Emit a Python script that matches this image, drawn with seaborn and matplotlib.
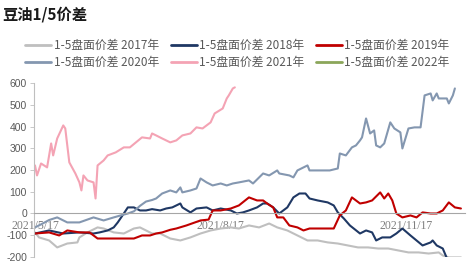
import matplotlib
matplotlib.use("Agg")
import matplotlib.pyplot as plt
from matplotlib.lines import Line2D
from matplotlib.ticker import FixedLocator, FixedFormatter
import numpy as np
import pandas as pd
import seaborn as sns

# ---------------- data (day offsets from 2021/5/17, values) ----------------
base_date = "2021-05-17"

days_2017 = [0, 2, 7, 11, 16, 21, 22, 26, 31, 34, 39, 44, 49, 52, 55, 58, 62, 67, 72, 77, 82, 87, 92, 97,
             101, 106, 111, 116, 120, 125, 130, 135, 140, 145, 150, 155, 160, 165, 170, 175, 180, 185,
             190, 195, 200, 202, 205, 211]
vals_2017 = [-87, -110, -124, -156, -138, -133, -110, -87, -64, -69, -87, -92, -69, -64, -78, -92, -92,
             -115, -124, -110, -92, -78, -69, -64, -69, -55, -64, -46, -64, -78, -101, -124, -124, -133,
             -138, -147, -156, -156, -161, -161, -170, -179, -179, -184, -179, -193, -202, -202]

days_2018 = [0, 7, 14, 22, 29, 32, 36, 39, 41, 44, 46, 49, 52, 55, 58, 62, 65, 68, 72, 73, 77, 80, 85, 88,
             92, 97, 100, 103, 106, 110, 113, 115, 118, 121, 125, 128, 131, 134, 136, 140, 145, 148, 150,
             153, 156, 161, 164, 167, 169, 172, 176, 179, 182, 186, 189, 192, 196, 197, 199, 202, 204]
vals_2018 = [-92, -78, -92, -87, -92, -87, -78, -64, -41, 0, 28, 28, 14, 14, 20, 14, 23, 28, 46, 28, 5,
             23, 28, 14, 23, 14, 0, 5, 14, 28, 46, 46, 28, 0, 28, 74, 92, 92, 69, 60, 51, 37, 5, -23, -55,
             -92, -78, -87, -124, -110, -110, -92, -69, -101, -124, -147, -133, -124, -147, -161, -205]

days_2019 = [0, 7, 12, 16, 22, 27, 31, 36, 42, 49, 53, 57, 60, 63, 67, 70, 75, 82, 86, 88, 92, 97, 101,
             106, 110, 113, 115, 118, 120, 123, 126, 130, 133, 136, 143, 148, 151, 154, 157, 161, 164,
             167, 171, 173, 175, 177, 179, 182, 186, 189, 192, 196, 199, 202, 205, 208, 211]
vals_2019 = [-92, -87, -101, -78, -87, -87, -115, -115, -115, -115, -101, -101, -92, -87, -75, -69, -55,
             -32, -28, 14, 14, 23, 37, 74, 60, 60, 46, 28, -18, -18, -55, -64, -78, -69, -69, -69, -9, 14,
             74, 46, 51, 60, 97, 69, 92, 60, 0, -18, -9, -18, 5, 0, 0, 14, 51, 28, 23]

days_2020 = [0, 3, 7, 11, 16, 22, 29, 34, 39, 42, 46, 49, 52, 55, 58, 60, 63, 67, 70, 72, 73, 77, 80, 82,
             85, 88, 92, 95, 98, 101, 106, 108, 113, 116, 120, 121, 126, 128, 130, 135, 136, 141, 146,
             150, 151, 154, 157, 159, 161, 162, 164, 166, 168, 169, 171, 173, 176, 178, 181, 182, 185,
             188, 191, 193, 196, 197, 199, 200, 204, 205, 207, 208]
vals_2020 = [-64, -50, -30, -18, -41, -41, -18, -32, -18, -10, 0, 10, 35, 55, 62, 69, 92, 106, 97, 120,
             97, 106, 115, 161, 143, 129, 138, 129, 138, 143, 152, 138, 184, 175, 198, 184, 175, 166, 198,
             221, 198, 198, 198, 207, 276, 267, 304, 313, 336, 350, 437, 368, 382, 313, 304, 322, 419,
             391, 373, 299, 391, 396, 396, 543, 552, 520, 552, 529, 529, 506, 543, 575]

days_2021 = [0, 1, 3, 6, 8, 9, 11, 14, 15, 17, 20, 22, 23, 24, 26, 29, 30, 31, 34, 36, 40, 44, 47, 50, 53,
             57, 58, 60, 63, 67, 70, 73, 77, 80, 83, 87, 89, 93, 95, 96, 98, 99]
vals_2021 = [221, 175, 230, 212, 322, 267, 345, 405, 391, 235, 184, 143, 106, 175, 152, 143, 69, 221,
             244, 267, 281, 304, 304, 327, 350, 345, 368, 359, 345, 327, 336, 359, 368, 396, 391, 419,
             460, 483, 529, 543, 575, 580]

days_2022 = []
vals_2022 = []

labels = ["1-5盘面价差 2017年", "1-5盘面价差 2018年", "1-5盘面价差 2019年",
          "1-5盘面价差 2020年", "1-5盘面价差 2021年", "1-5盘面价差 2022年"]
colors = ["#BFBFBF", "#1F3864", "#C00000", "#8497B0", "#F4A3B4", "#8BA65A"]

tick_days = [0, 92, 184]
tick_labels = ["2021/5/17", "2021/8/17", "2021/11/17"]
y_ticks = [-200, -100, 0, 100, 200, 300, 400, 500, 600]

# ---------------- plotting ----------------
sns.set_theme(style="white")
plt.rcParams["font.family"] = ["Noto Sans CJK SC", "DejaVu Sans"]

fig = plt.figure(figsize=(4.7, 2.71), dpi=100)
ax = fig.add_axes([0.0723, 0.0517, 0.917, 0.642])

base = pd.Timestamp(base_date)
all_series = [(days_2017, vals_2017), (days_2018, vals_2018), (days_2019, vals_2019),
              (days_2020, vals_2020), (days_2021, vals_2021), (days_2022, vals_2022)]

for (d, v), lab, col in zip(all_series, labels, colors):
    if len(d) == 0:
        continue
    df = pd.DataFrame({"date": base + pd.to_timedelta(d, unit="D"), "value": v})
    sns.lineplot(data=df, x="date", y="value", ax=ax, color=col, linewidth=1.5,
                 estimator=None, sort=False, legend=False)

ax.set_xlim(base - pd.Timedelta(days=0.5), base + pd.Timedelta(days=213))
ax.set_ylim(-200, 600)
ax.set_xlabel("")
ax.set_ylabel("")

ax.yaxis.set_major_locator(FixedLocator(y_ticks))
ax.yaxis.set_major_formatter(FixedFormatter([str(t) for t in y_ticks]))
tick_pos = [matplotlib.dates.date2num(base + pd.Timedelta(days=t)) for t in tick_days]
ax.xaxis.set_major_locator(FixedLocator(tick_pos))
ax.xaxis.set_major_formatter(FixedFormatter(tick_labels))
ax.xaxis.set_minor_locator(FixedLocator([]))

for s in ["top", "right"]:
    ax.spines[s].set_visible(False)
ax.spines["left"].set_color("#BFBFBF")
ax.spines["left"].set_linewidth(0.8)
ax.spines["bottom"].set_position(("data", 0))
ax.spines["bottom"].set_color("#A6A6A6")
ax.spines["bottom"].set_linewidth(0.8)
ax.tick_params(axis="y", length=3, width=0.6, color="#BFBFBF", pad=2, left=True,
               labelsize=7.5, labelcolor="#595959", labelfontfamily="Liberation Sans")
ax.tick_params(axis="x", length=0, pad=5, labelsize=8.5, labelcolor="#7f7f7f",
               labelfontfamily="Liberation Serif")

# legend (ordered to fill row-wise in 3 columns)
handles = [Line2D([0], [0], color=c, lw=2) for c in colors]
order = [0, 3, 1, 4, 2, 5]
leg = fig.legend([handles[i] for i in order], [labels[i] for i in order], ncol=3, loc="center",
                 bbox_to_anchor=(0.505, 0.80), frameon=False, fontsize=8.5, handlelength=2.2,
                 handletextpad=0.2, columnspacing=1.0, labelspacing=0.35)
for t in leg.get_texts():
    t.set_color("#595959")

fig.text(0.004, 1 - 15 / 271, "豆油1/5价差", fontsize=11, fontweight="bold", va="center",
         ha="left", color="#1a1a1a")

fig.savefig("out.png", dpi=100)
